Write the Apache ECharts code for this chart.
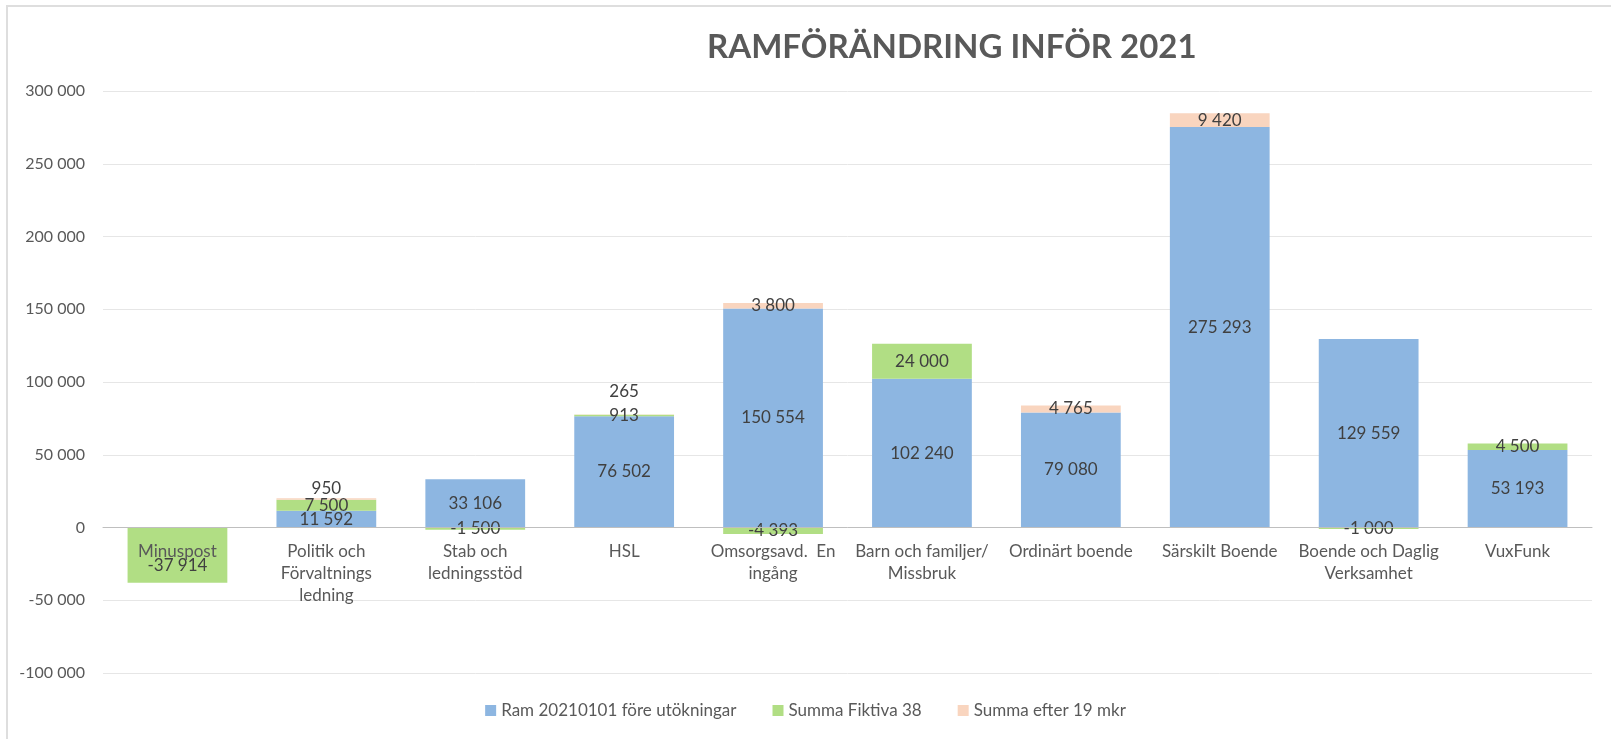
<!DOCTYPE html>
<html>
<head>
<meta charset="utf-8">
<script src="https://cdn.jsdelivr.net/npm/echarts@6/dist/echarts.min.js"></script>
<style>
  html, body { margin: 0; padding: 0; background: #fff; }
  #frame { position: absolute; left: 6px; top: 5px; right: 0; bottom: 0; border-top: 2px solid #dedede; border-left: 2px solid #dedede; }
  #chart { position: absolute; left: 0; top: 0; width: 1611px; height: 739px; }
</style>
</head>
<body>
<div id="frame"></div>
<div id="chart"></div>
<script>
// Kategorier (avdelningar)
var kategorier = [
  'Minuspost',
  'Politik och\nFörvaltnings\nledning',
  'Stab och\nledningsstöd',
  'HSL',
  'Omsorgsavd.  En\ningång',
  'Barn och familjer/\nMissbruk',
  'Ordinärt boende',
  'Särskilt Boende',
  'Boende och Daglig\nVerksamhet',
  'VuxFunk'
];

// Serier
var ramFore = [0, 11592, 33106, 76502, 150554, 102240, 79080, 275293, 129559, 53193];
var fiktiva38 = [-37914, 7500, -1500, 913, -4393, 24000, 0, 0, -1000, 4500];
var efter19 = [0, 950, 0, 265, 3800, 0, 4765, 9420, 0, 0];

var serieNamn = ['Ram 20210101 före utökningar', 'Summa Fiktiva 38', 'Summa efter 19 mkr'];
var farger = ['#8db6e1', '#b1de84', '#f9d5bf'];

// Y-axel
var yMin = -100000;
var yMax = 300000;
var yStep = 50000;

var typsnitt = 'Lato, "Open Sans", sans-serif';

// Mellanslag som tusentalsavgränsare
function formatera(v) {
  var s = Math.abs(v).toString().replace(/\B(?=(\d{3})+(?!\d))/g, ' ');
  return (v < 0 ? '-' : '') + s;
}

function etikett(p) {
  return p.value === 0 ? '' : formatera(p.value);
}

var chart = echarts.init(document.getElementById('chart'));

// Små segment där etiketten ligger ovanför stapeln
function efterData() {
  return efter19.map(function (v, i) {
    if (i === 1) return { value: v, label: { position: 'top', distance: 1 } };
    if (i === 3) return { value: v, label: { position: 'top', distance: 14 } };
    return v;
  });
}

// Minuspost-etiketten ligger under kategorinamnet
function fiktivaData() {
  return fiktiva38.map(function (v, i) {
    if (i === 0) return { value: v, label: { offset: [0, 10] } };
    return v;
  });
}

function serie(namn, data, farg) {
  return {
    name: namn,
    type: 'bar',
    stack: 'ram',
    barCategoryGap: '33%',
    data: data,
    itemStyle: { color: farg },
    label: {
      show: true,
      position: 'inside',
      color: '#404040',
      fontFamily: typsnitt,
      fontSize: 17,
      formatter: etikett
    }
  };
}

// Gridens höjd och nollans läge, så att kategoriaxeln hamnar vid 0
var gridTop = 91;
var gridBottom = 66;
var gridHojd = 739 - gridTop - gridBottom;
var nollOffset = -gridHojd * (0 - yMin) / (yMax - yMin);

var option = {
  animation: false,
  title: {
    text: 'RAMFÖRÄNDRING INFÖR 2021',
    left: 702,
    top: 26,
    textStyle: {
      color: '#595959',
      fontFamily: typsnitt,
      fontWeight: 'bold',
      fontSize: 33
    }
  },
  legend: {
    bottom: 15,
    left: 'center',
    itemWidth: 11,
    itemHeight: 11,
    itemGap: 36,
    icon: 'rect',
    textStyle: { color: '#595959', fontFamily: typsnitt, fontSize: 17 },
    data: serieNamn
  },
  grid: { left: 103, right: 19, top: gridTop, bottom: gridBottom, containLabel: false },
  xAxis: {
    type: 'category',
    data: kategorier,
    offset: nollOffset,
    axisTick: { show: false },
    axisLine: { show: true, onZero: false, lineStyle: { color: '#bfbfbf', width: 1 } },
    axisLabel: {
      color: '#595959',
      fontFamily: typsnitt,
      fontSize: 17,
      lineHeight: 22,
      margin: 13,
      interval: 0
    },
    z: 5
  },
  yAxis: {
    type: 'value',
    min: yMin,
    max: yMax,
    interval: yStep,
    axisLine: { show: false },
    axisTick: { show: false },
    splitLine: { lineStyle: { color: '#e6e6e6', width: 1 } },
    axisLabel: {
      color: '#595959',
      fontFamily: typsnitt,
      fontSize: 16,
      margin: 18,
      formatter: formatera
    }
  },
  series: [
    serie(serieNamn[0], ramFore, farger[0]),
    serie(serieNamn[1], fiktivaData(), farger[1]),
    serie(serieNamn[2], efterData(), farger[2])
  ]
};

chart.setOption(option);
</script>
</body>
</html>
